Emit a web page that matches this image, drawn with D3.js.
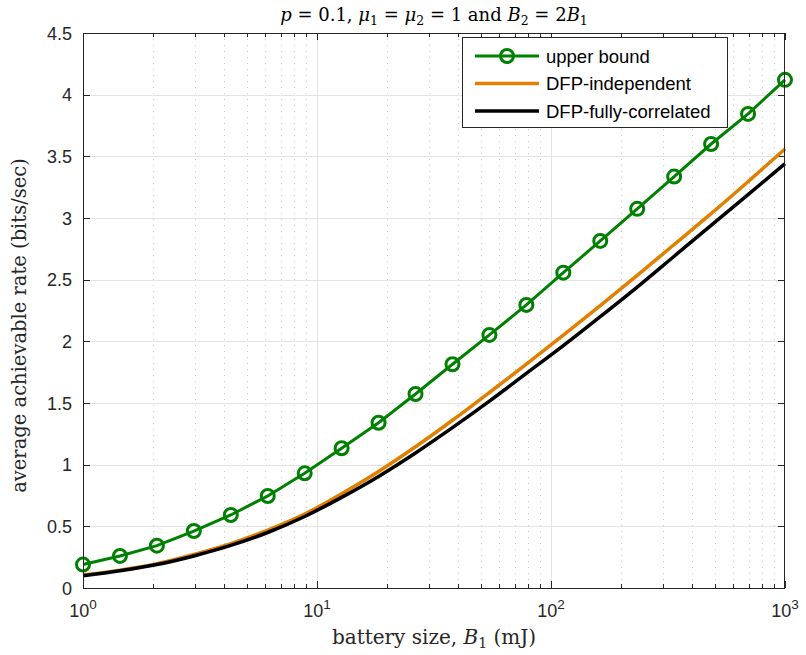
<!DOCTYPE html>
<html><head><meta charset="utf-8">
<script src="https://cdn.jsdelivr.net/npm/d3@7"></script>
<style>body{margin:0;background:#fff}svg{display:block}</style>
</head><body>
<svg id="c" width="806" height="655"></svg>
<script>
const batterySizes = d3.range(20).map(k => Math.pow(10, 3*k/19));
const upperBound = [0.19,0.26,0.343,0.462,0.592,0.746,0.93,1.133,1.34,1.573,1.814,2.052,2.295,2.557,2.814,3.074,3.336,3.60,3.844,4.12];
const dfpIndependent = [0.105,0.145,0.197,0.272,0.36,0.47,0.60,0.765,0.945,1.145,1.36,1.585,1.815,2.05,2.29,2.535,2.785,3.035,3.295,3.56];
const dfpCorrelated = [0.10,0.14,0.19,0.26,0.345,0.45,0.58,0.735,0.905,1.095,1.30,1.515,1.74,1.965,2.20,2.44,2.69,2.94,3.19,3.44];
const yTicks = [0,0.5,1,1.5,2,2.5,3,3.5,4,4.5];
const yTickLabels = ["0","0.5","1","1.5","2","2.5","3","3.5","4","4.5"];
const xDecades = [1,10,100,1000];
const xDecadeExp = ["0","1","2","3"];
const legendLabels = ["upper bound","DFP-independent","DFP-fully-correlated"];

const L=83,R=785,T=33,B=588;
const svg=d3.select("#c");
const x=d3.scaleLog().domain([1,1000]).range([L,R]);
const y=d3.scaleLinear().domain([0,4.5]).range([B,T]);
const axisCol="#262626";
const sans="'Liberation Sans', Arial, sans-serif";
const serif="'DejaVu Serif', serif";

const minors=[];
for(let d=1; d<1000; d*=10) for(let m=2;m<=9;m++) minors.push(d*m);

const g=svg.append("g");
g.selectAll(".mg").data(minors).join("line")
 .attr("x1",d=>Math.round(x(d))+0.5).attr("x2",d=>Math.round(x(d))+0.5)
 .attr("y1",T).attr("y2",B).attr("stroke","#c8c8c8").attr("stroke-width",1)
 .attr("stroke-dasharray","1,5");
g.selectAll(".gx").data(xDecades.slice(1,3)).join("line")
 .attr("x1",d=>Math.round(x(d))+0.5).attr("x2",d=>Math.round(x(d))+0.5)
 .attr("y1",T).attr("y2",B).attr("stroke","#e3e3e3").attr("stroke-width",1);
g.selectAll(".gy").data(yTicks.slice(1,-1)).join("line")
 .attr("y1",d=>Math.round(y(d))+0.5).attr("y2",d=>Math.round(y(d))+0.5)
 .attr("x1",L).attr("x2",R).attr("stroke","#e3e3e3").attr("stroke-width",1);

const tk=svg.append("g").attr("stroke",axisCol).attr("stroke-width",1);
yTicks.forEach(v=>{
  const yy=Math.round(y(v))+0.5;
  tk.append("line").attr("x1",L).attr("x2",L+7).attr("y1",yy).attr("y2",yy);
  tk.append("line").attr("x1",R-7).attr("x2",R).attr("y1",yy).attr("y2",yy);
});
xDecades.forEach(v=>{
  const xx=Math.round(x(v))+0.5;
  tk.append("line").attr("x1",xx).attr("x2",xx).attr("y1",B).attr("y2",B-7);
  tk.append("line").attr("x1",xx).attr("x2",xx).attr("y1",T).attr("y2",T+7);
});
minors.forEach(v=>{
  const xx=Math.round(x(v))+0.5;
  tk.append("line").attr("x1",xx).attr("x2",xx).attr("y1",B).attr("y2",B-4);
  tk.append("line").attr("x1",xx).attr("x2",xx).attr("y1",T).attr("y2",T+4);
});

const line=d3.line().x((d,i)=>x(batterySizes[i])).y(d=>y(d)).curve(d3.curveMonotoneX);
svg.append("path").datum(dfpIndependent).attr("d",line).attr("fill","none")
 .attr("stroke","#e07f00").attr("stroke-width",3.5);
svg.append("path").datum(dfpCorrelated).attr("d",line).attr("fill","none")
 .attr("stroke","#000").attr("stroke-width",3.5);
const lineLin=d3.line().x((d,i)=>x(batterySizes[i])).y(d=>y(d));
svg.append("path").datum(upperBound).attr("d",lineLin).attr("fill","none")
 .attr("stroke","#008000").attr("stroke-width",3);
svg.selectAll(".mk").data(upperBound).join("circle")
 .attr("cx",(d,i)=>x(batterySizes[i])).attr("cy",d=>y(d)).attr("r",6.5)
 .attr("fill","none").attr("stroke","#008000").attr("stroke-width",3);

svg.append("rect").attr("x",L+0.5).attr("y",T+0.5).attr("width",R-L-1).attr("height",B-T)
 .attr("fill","none").attr("stroke",axisCol).attr("stroke-width",1);

svg.selectAll(".yl").data(yTicks).join("text")
 .attr("x",L-11).attr("y",d=>y(d)+6.5).attr("text-anchor","end")
 .attr("font-family",sans).attr("font-size",18).attr("fill",axisCol)
 .text((d,i)=>yTickLabels[i]);

xDecades.forEach((v,i)=>{
  const t=svg.append("text").attr("x",x(v)).attr("y",617).attr("text-anchor","middle")
   .attr("font-family",sans).attr("font-size",18).attr("fill",axisCol);
  t.append("tspan").text("10");
  t.append("tspan").attr("dy",-8).attr("font-size",13.5).text(xDecadeExp[i]);
});

const xl=svg.append("text").attr("x",(L+R)/2).attr("y",644).attr("text-anchor","middle")
 .attr("font-family",serif).attr("font-size",20).attr("fill",axisCol);
xl.append("tspan").text("battery size, ");
xl.append("tspan").attr("font-style","italic").text("B");
xl.append("tspan").attr("dy",4).attr("font-size",14).text("1");
xl.append("tspan").attr("dy",-4).text(" (mJ)");

svg.append("text").attr("transform",`translate(26,${(T+B)/2+15}) rotate(-90)`)
 .attr("text-anchor","middle").attr("font-family",serif).attr("font-size",19.5).attr("fill",axisCol)
 .text("average achievable rate (bits/sec)");

const tt=svg.append("text").attr("x",(L+R)/2).attr("y",21).attr("text-anchor","middle")
 .attr("font-family",serif).attr("font-size",18).attr("fill","#000");
tt.append("tspan").attr("font-style","italic").text("p");
tt.append("tspan").text(" = 0.1, ");
tt.append("tspan").attr("font-style","italic").text("μ");
tt.append("tspan").attr("dy",4).attr("font-size",12.5).text("1");
tt.append("tspan").attr("dy",-4).text(" = ");
tt.append("tspan").attr("font-style","italic").text("μ");
tt.append("tspan").attr("dy",4).attr("font-size",12.5).text("2");
tt.append("tspan").attr("dy",-4).text(" = 1 and ");
tt.append("tspan").attr("font-style","italic").text("B");
tt.append("tspan").attr("dy",4).attr("font-size",12.5).text("2");
tt.append("tspan").attr("dy",-4).text(" = 2");
tt.append("tspan").attr("font-style","italic").text("B");
tt.append("tspan").attr("dy",4).attr("font-size",12.5).text("1");

const lg=svg.append("g");
lg.append("rect").attr("x",462.5).attr("y",37.5).attr("width",265).attr("height",90)
 .attr("fill","#fff").attr("stroke",axisCol).attr("stroke-width",1);
const cols=["#008000","#e07f00","#000"];
legendLabels.forEach((lab,i)=>{
  const yy=56+i*27.5;
  lg.append("line").attr("x1",475).attr("x2",539).attr("y1",yy).attr("y2",yy)
   .attr("stroke",cols[i]).attr("stroke-width",i===0?3:3.5);
  if(i===0) lg.append("circle").attr("cx",507).attr("cy",yy).attr("r",6.5)
   .attr("fill","none").attr("stroke",cols[0]).attr("stroke-width",3);
  lg.append("text").attr("x",546).attr("y",yy+6.5).attr("font-family",sans)
   .attr("font-size",18.5).attr("fill","#000").text(lab);
});
</script>
</body></html>
